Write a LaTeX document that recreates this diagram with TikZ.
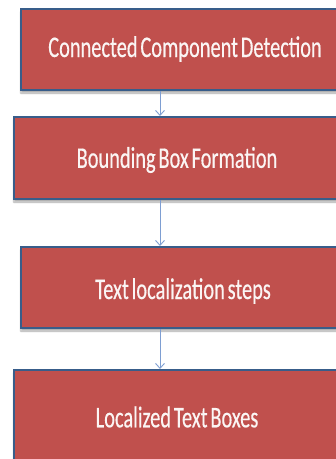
\documentclass[tikz,border=0pt]{standalone}
\usepackage{fontspec}
\setmainfont{Carlito}
\newfontfamily\boxfont[FakeBold=0.5]{Carlito}
\usetikzlibrary{arrows.meta,shadows.blur}
\definecolor{boxred}{HTML}{C0504D}
\definecolor{boxblue}{HTML}{385D8A}
\definecolor{arrblue}{HTML}{7E9ED2}
\tikzset{
  stepbox/.style={draw=boxblue, line width=2.8pt, fill=boxred,
    blur shadow={shadow xshift=0pt, shadow yshift=-3pt, shadow blur steps=6, shadow opacity=35}},
  steptext/.style={text=white!94!boxred, font=\boxfont\fontsize{30}{32}\selectfont, inner sep=0pt},
  flow/.style={draw=arrblue, line width=0.9pt, -{Straight Barb[length=5pt,width=9pt]}}
}
\newcommand{\sq}[1]{\scalebox{0.68}[1]{\spaceskip=0.14em plus 0.02em\relax #1}}
\begin{document}
\begin{tikzpicture}[x=1pt,y=-1pt]
\useasboundingbox (0,0) rectangle (336,459);
\begin{scope}
\clip (0,0) rectangle (336,459);
\path[stepbox] (21,9) rectangle (352,90);
\path[stepbox] (14,117) rectangle (345,199);
\path[stepbox] (21,247) rectangle (352,328);
\path[stepbox] (14,370) rectangle (345,475);
\end{scope}
\node[steptext] (t1) at (185,49) {\sq{Connected Component Detection}};
\node[steptext] (t2) at (177,160) {\sq{Bounding Box Formation}};
\node[steptext] (t3) at (183,291) {\sq{Text localization steps}};
\node[steptext] (t4) at (177,417) {\sq{Localized Text Boxes}};
\coordinate (b1) at (160,91);
\coordinate (a2) at (160,116);
\coordinate (b2) at (160,200);
\coordinate (a3) at (160,246);
\coordinate (b3) at (160,329);
\coordinate (a4) at (160,369);
\draw[flow] (b1) -- (a2);
\draw[flow] (b2) -- (a3);
\draw[flow] (b3) -- (a4);
\end{tikzpicture}
\end{document}
